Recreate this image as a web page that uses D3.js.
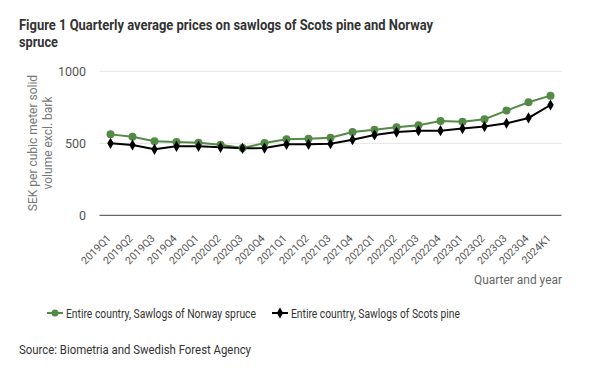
<!DOCTYPE html>
<html><head><meta charset="utf-8">
<script src="https://cdn.jsdelivr.net/npm/d3@7"></script>
<style>
body{margin:0;background:#fff;}
svg{display:block;font-family:Roboto, "Noto Sans", sans-serif;}
</style></head>
<body><svg id="c" width="600" height="368"></svg>
<script>
const categories = ["2019Q1","2019Q2","2019Q3","2019Q4","2020Q1","2020Q2","2020Q3","2020Q4","2021Q1","2021Q2","2021Q3","2021Q4","2022Q1","2022Q2","2022Q3","2022Q4","2023Q1","2023Q2","2023Q3","2023Q4","2024K1"];
const spruce = [562,546,514,509,504,490,467,502,528,532,539,578,594,611,626,655,650,667,727,785,831];
const pine = [500,488,458,479,479,472,465,467,493,493,497,525,558,578,588,588,602,616,639,676,766];
const yTicks = [0,500,1000];
const seriesNames = ["Entire country, Sawlogs of Norway spruce","Entire country, Sawlogs of Scots pine"];

const svg = d3.select("#c");
const x = d3.scaleBand().domain(categories).range([99.5,561.5]).padding(0);
const y = d3.scaleLinear().domain([0,1000]).range([215.3,71.3]);
const cx = d => x(d) + x.bandwidth()/2;

// title
svg.append("text").attr("x",19).attr("y",29.5).attr("font-weight","bold").attr("font-size",14.2).attr("fill","#333")
  .attr("textLength",414).attr("lengthAdjust","spacingAndGlyphs").text("Figure 1 Quarterly average prices on sawlogs of Scots pine and Norway");
svg.append("text").attr("x",19).attr("y",46.5).attr("font-weight","bold").attr("font-size",14.2).attr("fill","#333")
  .attr("textLength",39).attr("lengthAdjust","spacingAndGlyphs").text("spruce");

// grid
svg.append("g").selectAll("line").data(yTicks).join("line")
  .attr("x1",99.5).attr("x2",561.5).attr("y1",d=>y(d)).attr("y2",d=>y(d))
  .attr("stroke",d=>d===0?"#666":"#e3e3e3").attr("stroke-width",d=>d===0?1.2:1);

// y axis labels
const yAxis = d3.axisLeft(y).tickValues(yTicks).tickSize(0).tickPadding(0).tickFormat(d3.format("d"));
const gy = svg.append("g").attr("transform","translate(86,0)").call(yAxis);
gy.select(".domain").remove();
gy.selectAll("text").attr("font-size",12.5).attr("fill","#555").attr("font-family","Roboto, sans-serif");

// y title (two lines)
svg.append("text").attr("transform","translate(37,143) rotate(-90)").attr("text-anchor","middle").attr("font-size",12).attr("fill","#777").text("SEK per cubic meter solid");
svg.append("text").attr("transform","translate(52,143) rotate(-90)").attr("text-anchor","middle").attr("font-size",12).attr("fill","#777").text("volume excl. bark");

// x axis labels
svg.append("g").selectAll("text").data(categories).join("text")
  .attr("transform",d=>`translate(${cx(d)+1},239) rotate(-45)`)
  .attr("text-anchor","end").attr("font-size",10.5).attr("fill","#555").text(d=>d);

svg.append("text").attr("x",562).attr("y",284).attr("text-anchor","end").attr("font-size",12.5)
  .attr("textLength",88).attr("lengthAdjust","spacingAndGlyphs").attr("fill","#666").text("Quarter and year");

const green = "#538a46";
const line = d3.line().x((d,i)=>cx(categories[i])).y(d=>y(d));
svg.append("path").datum(spruce).attr("d",line).attr("fill","none").attr("stroke",green).attr("stroke-width",2);
svg.append("path").datum(pine).attr("d",line).attr("fill","none").attr("stroke","#000").attr("stroke-width",2);
svg.append("g").selectAll("circle").data(spruce).join("circle")
  .attr("cx",(d,i)=>cx(categories[i])).attr("cy",d=>y(d)).attr("r",4).attr("fill",green);
const diamond = d3.symbol().type(d3.symbolDiamond).size(36);
svg.append("g").selectAll("path").data(pine).join("path")
  .attr("d",diamond()).attr("transform",(d,i)=>`translate(${cx(categories[i])},${y(d)})`).attr("fill","#000");

// legend
const lg = svg.append("g");
lg.append("line").attr("x1",47).attr("x2",63).attr("y1",313).attr("y2",313).attr("stroke",green).attr("stroke-width",2);
lg.append("circle").attr("cx",55).attr("cy",313).attr("r",3.5).attr("fill",green);
lg.append("text").attr("x",66).attr("y",317.5).attr("font-size",12.5).attr("textLength",190).attr("lengthAdjust","spacingAndGlyphs").attr("fill","#333").text(seriesNames[0]);
lg.append("line").attr("x1",272).attr("x2",288).attr("y1",313).attr("y2",313).attr("stroke","#000").attr("stroke-width",2);
lg.append("path").attr("d",diamond()).attr("transform","translate(280,313)").attr("fill","#000");
lg.append("text").attr("x",291).attr("y",317.5).attr("font-size",12.5).attr("textLength",169).attr("lengthAdjust","spacingAndGlyphs").attr("fill","#333").text(seriesNames[1]);

svg.append("text").attr("x",19).attr("y",354).attr("font-size",13.5).attr("textLength",232).attr("lengthAdjust","spacingAndGlyphs").attr("fill","#333").text("Source: Biometria and Swedish Forest Agency");
</script></body></html>
